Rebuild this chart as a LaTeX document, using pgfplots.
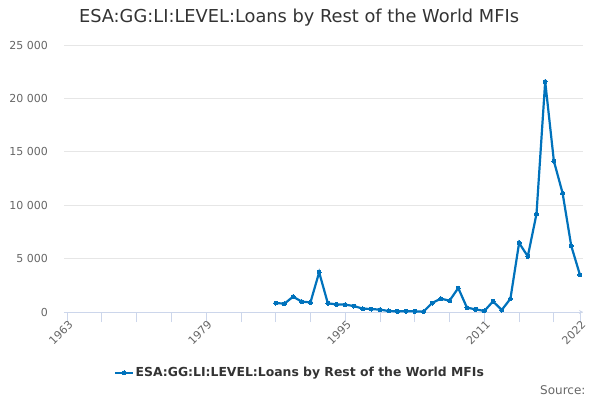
\documentclass[border=0pt]{standalone}
\usepackage{pgfplots}
\pgfplotsset{compat=1.18}
\usepackage{fontspec}
\setmainfont{DejaVu Sans}

\definecolor{serieblue}{RGB}{0,114,188}
\definecolor{gridgray}{RGB}{230,230,230}
\definecolor{axisblue}{RGB}{204,214,235}
\definecolor{labelgray}{RGB}{102,102,102}
\definecolor{titlegray}{RGB}{51,51,51}

\begin{document}
\begin{tikzpicture}
\useasboundingbox (0pt,0pt) rectangle (600pt,400pt);
\node[font=\fontsize{17.8}{20}\selectfont, text=titlegray] at (299pt,382pt) {ESA:GG:LI:LEVEL:Loans by Rest of the World MFIs};
\node[font=\fontsize{12}{14}\selectfont, text=labelgray, anchor=east] at (589pt,10pt) {Source:};
\begin{axis}[
  at={(64pt,88pt)}, anchor=south west,
  scale only axis, width=519pt, height=267pt,
  xmin=1962.65, xmax=2022.35,
  ymin=0, ymax=25000,
  axis lines=left,
  axis line style={draw=none},
  x axis line style={draw=axisblue, line width=0.8pt},
  xtick={1963,1967,...,2019,2022},
  xticklabels={1963,,,,1979,,,,1995,,,,2011,,,2022},
  xtick style={draw=axisblue, line width=0.8pt},
  major tick length=10pt,
  tick align=outside,
  xtick pos=bottom,
  ytick={0,5000,...,25000},
  ytick style={draw=none},
  ymajorgrids,
  grid style={draw=gridgray, line width=0.8pt},
  /pgf/number format/assume math mode=true,
  /pgf/number format/1000 sep={\ },
  scaled y ticks=false,
  tick label style={font=\fontsize{11}{13}\selectfont, text=labelgray},
  xticklabel style={rotate=45, anchor=north east, inner sep=1pt, xshift=3pt, yshift=2pt},
  yticklabel style={anchor=east, xshift=-2.5pt},
  legend style={at={(axis description cs:0.455,-0.228)}, anchor=center, draw=none, fill=none,
    font=\fontsize{12.4}{14}\selectfont\bfseries, text=titlegray},
  legend cell align=left,
  clip=false,
]
\addplot[serieblue, line width=2.2pt, mark=*, mark size=2pt, mark options={line width=0pt}] coordinates {
(1987,842) (1988,780) (1989,1435) (1990,967) (1991,905) (1992,3713)
(1993,811) (1994,718) (1995,686) (1996,562) (1997,312) (1998,281)
(1999,218) (2000,94) (2001,62) (2002,62) (2003,62) (2004,31)
(2005,842) (2006,1248) (2007,1061) (2008,2246) (2009,406) (2010,250)
(2011,94) (2012,998) (2013,187) (2014,1240) (2015,6468) (2016,5206)
(2017,9181) (2018,21580) (2019,14134) (2020,11137) (2021,6184) (2022,3470)
};
\addlegendentry{ESA:GG:LI:LEVEL:Loans by Rest of the World MFIs}
\end{axis}
\end{tikzpicture}
\end{document}
